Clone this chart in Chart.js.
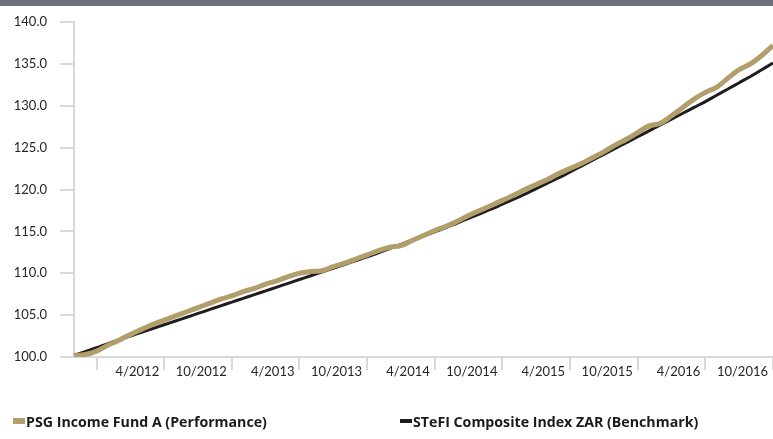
<!DOCTYPE html>
<html><head><meta charset="utf-8">
<script src="https://cdn.jsdelivr.net/npm/chart.js@4.4.1/dist/chart.umd.min.js"></script>
<style>
html,body{margin:0;padding:0;background:#fff;width:773px;height:439px;overflow:hidden;font-family:Lato,"Open Sans",sans-serif}
#bar{position:absolute;left:0;top:0;width:773px;height:6px;background:#6d7078}
#c{position:absolute;left:0;top:0}
.leg{position:absolute;top:412px;height:18px;font-family:"Open Sans",sans-serif;font-weight:700;font-size:14.2px;color:#1a1a1a;white-space:nowrap;display:flex;align-items:center}
.sw{display:inline-block;width:12px;margin-right:1px}
</style></head><body>
<canvas id="c" width="773" height="439"></canvas>
<div id="bar"></div>
<div id="legend"></div>
<script>
const months = ["8/2011","9/2011","10/2011","11/2011","12/2011",
 "1/2012","2/2012","3/2012","4/2012","5/2012","6/2012","7/2012","8/2012","9/2012","10/2012","11/2012","12/2012",
 "1/2013","2/2013","3/2013","4/2013","5/2013","6/2013","7/2013","8/2013","9/2013","10/2013","11/2013","12/2013",
 "1/2014","2/2014","3/2014","4/2014","5/2014","6/2014","7/2014","8/2014","9/2014","10/2014","11/2014","12/2014",
 "1/2015","2/2015","3/2015","4/2015","5/2015","6/2015","7/2015","8/2015","9/2015","10/2015","11/2015","12/2015",
 "1/2016","2/2016","3/2016","4/2016","5/2016","6/2016","7/2016","8/2016","9/2016","10/2016"];
const tickLabels = ["4/2012","10/2012","4/2013","10/2013","4/2014","10/2014","4/2015","10/2015","4/2016","10/2016"];
const tickMarks = ["10/2011","4/2012","10/2012","4/2013","10/2013","4/2014","10/2014","4/2015","10/2015","4/2016","10/2016"];
const fundName = "PSG Income Fund A (Performance)";
const benchName = "STeFI Composite Index ZAR (Benchmark)";
const fund = [100.2,100.3,100.7,101.4,102.0,102.7,103.3,103.9,104.4,104.9,105.4,105.9,106.4,106.9,107.3,107.8,108.2,108.7,109.1,109.6,110.0,110.2,110.3,110.8,111.2,111.7,112.2,112.7,113.1,113.3,113.9,114.5,115.1,115.6,116.2,116.9,117.5,118.1,118.7,119.3,120.0,120.6,121.2,121.9,122.5,123.1,123.8,124.5,125.3,126.0,126.8,127.6,127.9,128.8,129.8,130.8,131.6,132.2,133.3,134.3,135.0,136.0,137.2];
const bench = [100.2,100.65,101.1,101.6,102.05,102.5,102.95,103.4,103.85,104.3,104.75,105.2,105.65,106.1,106.55,107.0,107.45,107.9,108.35,108.8,109.25,109.7,110.15,110.6,111.05,111.5,111.95,112.45,112.95,113.45,113.95,114.45,114.95,115.45,116.0,116.55,117.1,117.65,118.25,118.85,119.45,120.1,120.75,121.4,122.1,122.8,123.5,124.2,124.9,125.6,126.3,127.0,127.7,128.4,129.1,129.8,130.5,131.25,132.0,132.75,133.5,134.3,135.1];
const fundColor = "#b29e6b";
const benchColor = "#1e1e1e";
const axisColor = "#d9d9d9";
const textColor = "#262626";

const chart = new Chart(document.getElementById('c'), {
  type: 'line',
  data: {
    labels: months,
    datasets: [
      {label: fundName, data: fund, borderColor: fundColor, borderWidth: 5, pointRadius: 0, tension: 0.4, fill: false},
      {label: benchName, data: bench, borderColor: benchColor, borderWidth: 3, pointRadius: 0, tension: 0.4, fill: false}
    ]
  },
  options: {
    responsive: false,
    animation: false,
    devicePixelRatio: 1,
    layout: {padding: {top: 22, right: 0, left: 0, bottom: 0}},
    plugins: {legend: {display: false}, tooltip: {enabled: false}},
    scales: {
      x: {
        type: 'category',
        offset: false,
        afterFit: s => { s.height = 82; },
        border: {color: axisColor, width: 2},
        grid: {
          drawOnChartArea: false, drawTicks: true, tickLength: 13, lineWidth: 2,
          color: ctx => (ctx.tick && tickMarks.includes(months[ctx.index])) ? axisColor : 'rgba(0,0,0,0)'
        },
        ticks: {
          autoSkip: false, maxRotation: 0, minRotation: 0, align: 'end', labelOffset: -5, padding: -6,
          color: textColor, font: {family: 'Lato', size: 13},
          callback: (v, i) => tickLabels.includes(months[i]) ? months[i] : ''
        }
      },
      y: {
        min: 100, max: 140,
        afterFit: s => { s.width = 74; },
        border: {color: axisColor, width: 2},
        grid: {drawOnChartArea: false, drawTicks: true, tickLength: 14, color: axisColor, lineWidth: 2},
        ticks: {
          stepSize: 5, padding: 13, color: textColor, font: {family: 'Lato', size: 13},
          callback: v => v.toFixed(1)
        }
      }
    }
  }
});

const leg = document.getElementById('legend');
const legPos = [13, 400];
chart.data.datasets.forEach((d, i) => {
  const el = document.createElement('div');
  el.className = 'leg';
  el.style.left = legPos[i] + 'px';
  const sw = document.createElement('span');
  sw.className = 'sw';
  sw.style.height = (i === 0 ? 6 : 4) + 'px';
  sw.style.background = d.borderColor;
  el.appendChild(sw);
  el.appendChild(document.createTextNode(d.label));
  leg.appendChild(el);
});
</script>
</body></html>
